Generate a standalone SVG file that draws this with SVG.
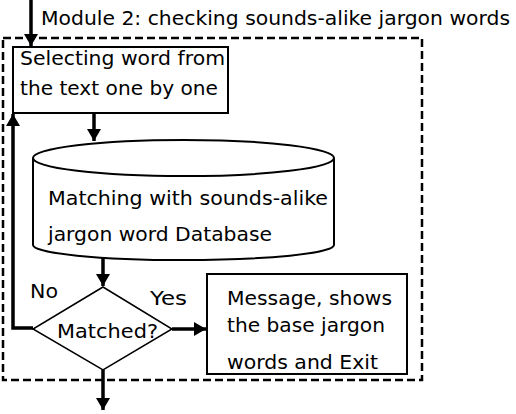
<svg xmlns="http://www.w3.org/2000/svg" width="516" height="414" viewBox="0 0 516 414">
<defs>
<marker id="ah" markerWidth="12" markerHeight="14" refX="12" refY="7" orient="auto" markerUnits="userSpaceOnUse" viewBox="0 0 12 14">
<path d="M0,0 L12,7 L0,14 Z" fill="#000"/>
</marker>
</defs>
<style>
text{font-family:"DejaVu Sans","Liberation Sans",sans-serif;font-size:19px;fill:#000}
.box{fill:#fff;stroke:#000;stroke-width:2}
.dia{fill:#fff;stroke:#000;stroke-width:1.5}
.dash{fill:none;stroke:#000;stroke-width:2.5;stroke-dasharray:8,4}
.conn{fill:none;stroke:#000;stroke-width:3.5}
.thin{fill:none;stroke:#000;stroke-width:2}
</style>
<rect width="516" height="414" fill="#fff"/>
<g id="module">
<rect class="dash" x="3" y="38" width="419" height="342"/>
<text x="41" y="25" font-size="21" textLength="469" lengthAdjust="spacingAndGlyphs">Module 2: checking sounds-alike jargon words</text>
</g>
<g id="select">
<rect class="box" x="13" y="47" width="215" height="66"/>
<text x="20" y="65" textLength="205" lengthAdjust="spacingAndGlyphs">Selecting word from</text>
<text x="20" y="95" textLength="198" lengthAdjust="spacingAndGlyphs">the text one by one</text>
</g>
<g id="database">
<path class="box" d="M33,158 A150,18 0 0,1 334,158 V245 A150,15 0 0,1 33,245 Z"/>
<path class="thin" d="M33,158 A150,18 0 0,0 334,158"/>
<text x="48" y="205" textLength="280" lengthAdjust="spacingAndGlyphs">Matching with sounds-alike</text>
<text x="48" y="241" textLength="224" lengthAdjust="spacingAndGlyphs">jargon word Database</text>
</g>
<g id="decision">
<path class="dia" d="M103,287 L172,329 L103,370 L33,329 Z"/>
<text x="57" y="338" textLength="101" lengthAdjust="spacingAndGlyphs">Matched?</text>
</g>
<g id="message">
<rect class="box" x="207" y="274" width="200" height="100"/>
<text x="227" y="305" textLength="165" lengthAdjust="spacingAndGlyphs">Message, shows</text>
<text x="227" y="332" textLength="158" lengthAdjust="spacingAndGlyphs">the base jargon</text>
<text x="227" y="369" textLength="151" lengthAdjust="spacingAndGlyphs">words and Exit</text>
</g>
<g id="connectors">
<line class="conn" x1="31" y1="0" x2="31" y2="46" marker-end="url(#ah)"/>
<line class="conn" x1="94" y1="113" x2="94" y2="141" marker-end="url(#ah)"/>
<line class="conn" x1="103" y1="258" x2="103" y2="286" marker-end="url(#ah)"/>
<line class="conn" x1="172" y1="329" x2="206" y2="329" marker-end="url(#ah)"/>
<polyline class="conn" points="33,328 13,328 13,114" marker-end="url(#ah)"/>
<line class="conn" x1="103" y1="370" x2="103" y2="410" marker-end="url(#ah)"/>
<text x="30" y="298" textLength="28" lengthAdjust="spacingAndGlyphs">No</text>
<text x="150" y="305" textLength="37" lengthAdjust="spacingAndGlyphs">Yes</text>
</g>
</svg>
